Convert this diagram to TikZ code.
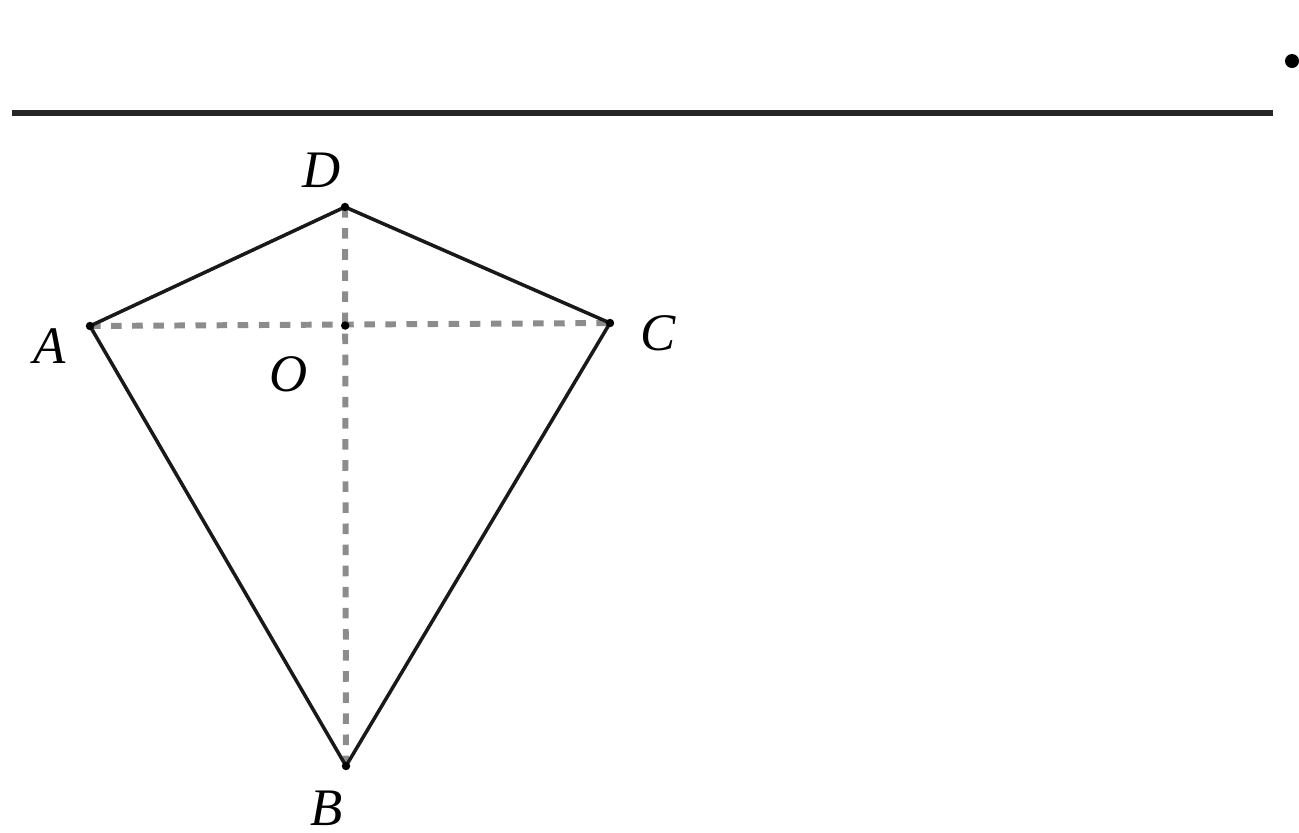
\documentclass[tikz,border=0pt]{standalone}
\usepackage{fontspec}
\setmainfont{Liberation Serif}
\usetikzlibrary{positioning, calc}

\begin{document}
\begin{tikzpicture}[x=0.01cm, y=-0.01cm,
        lado/.style={line width=1pt, black!90},
        diag/.style={line width=1.7pt, gray!90, dash pattern=on 3pt off 3pt},
        regla/.style={line width=1.5pt, black!85},
        etiq/.style={font=\fontsize{15}{17}\selectfont\itshape, inner sep=1pt},
        punto/.style={circle, fill=black, inner sep=0pt, minimum size=2.4pt}]
        \useasboundingbox (0,0) rectangle (1299,833);
        % vertices
        \coordinate (D) at (345,207);
        \coordinate (A) at (90,326);
        \coordinate (C) at (610,323);
        \coordinate (B) at (346,766);
        \coordinate (O) at ($(D)!(A)!(B)$);
        % regla superior
        \coordinate (r1) at (12,113);
        \coordinate (r2) at (1273,113);
        \draw[regla] (r1) -- (r2);
        \fill (1292,61) circle (7);
        % diagonales
        \draw[diag] (A) -- (C);
        \draw[diag] (D) -- (B);
        % cometa
        \draw[lado, line join=round] (A) -- (D) -- (C) -- (B) -- cycle;
        \foreach \p in {A,B,C,D,O} \node[punto] at (\p) {};
        % etiquetas
        \node[etiq] (lD) at (322,170) {D};
        \node[etiq] (lA) at (50,346) {A};
        \node[etiq] (lC) at (658,333) {C};
        \node[etiq] (lO) at (289,374) {O};
        \node[etiq] (lB) at (327,808) {B};
    \end{tikzpicture}
\end{document}
